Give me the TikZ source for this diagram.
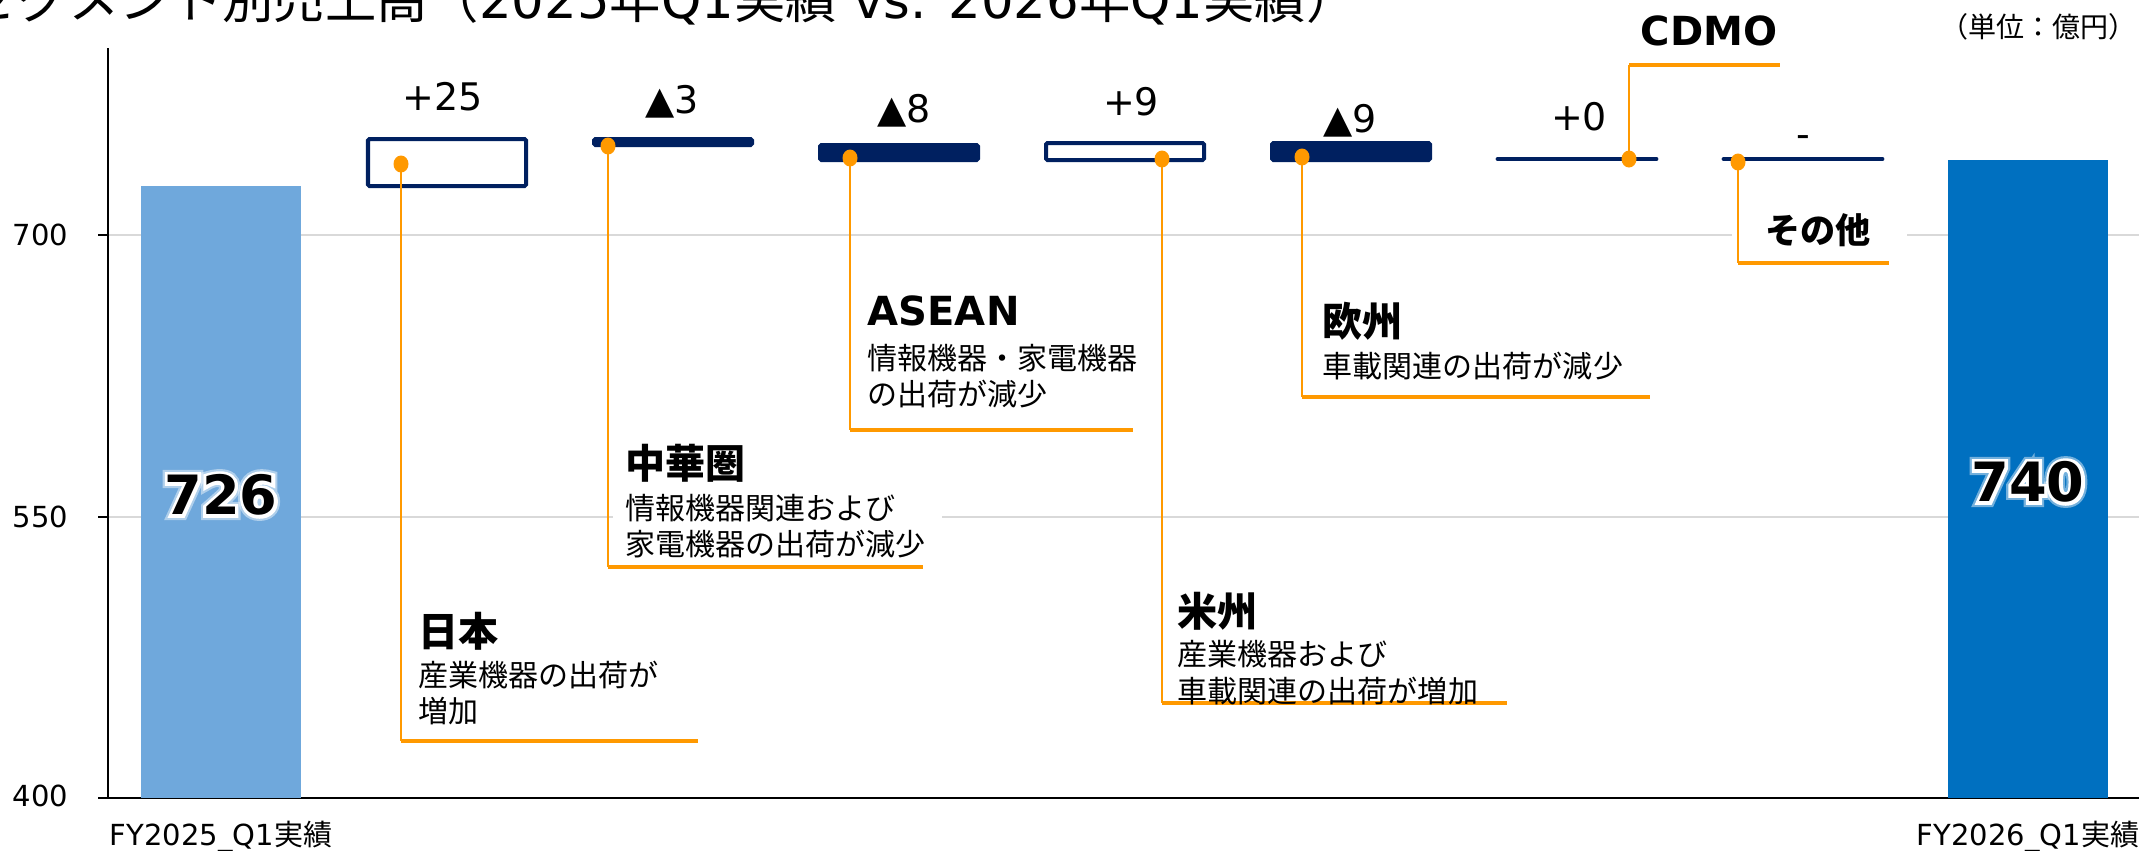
\documentclass[tikz,border=0pt]{standalone}
\usepackage{fontspec}
\setmainfont{DejaVu Sans}
\newfontfamily\jp{Noto Sans CJK JP}
\newfontfamily\glowA{DejaVu Sans}[UprightFont={* Bold}, FakeBold=12]
\newfontfamily\glowB{DejaVu Sans}[UprightFont={* Bold}, FakeBold=20]
\usetikzlibrary{calc,shapes.geometric}
\definecolor{navy}{HTML}{002060}
\definecolor{orng}{HTML}{FF9900}
\definecolor{lblue}{HTML}{6FA8DC}
\definecolor{dblue}{HTML}{0070C0}
\definecolor{gridc}{HTML}{D9D9D9}
\tikzset{
  axisline/.style={line width=0.45pt, black},
  gridline/.style={line width=0.45pt, gridc},
  incbox/.style={draw=navy, fill=white, line width=1.14pt, rounded corners=0.4pt},
  decbox/.style={draw=navy, fill=navy, line width=1.14pt, rounded corners=0.4pt},
  zeroline/.style={draw=navy, line width=1.4pt, line cap=round},
  vleader/.style={draw=orng, line width=0.45pt},
  hleader/.style={draw=orng, line width=1.2pt},
  dot/.style={ellipse, fill=orng, minimum width=0.15cm, minimum height=0.17cm, inner sep=0pt},
  axlbl/.style={font=\fontsize{8.25}{9}\selectfont, inner sep=0pt},
  vallbl/.style={font=\fontsize{10.8}{12}\selectfont, inner sep=0pt, anchor=base},
  barlbl/.style={font=\bfseries\fontsize{15.4}{17}\selectfont, inner sep=0pt},
  hdr/.style={font=\bfseries\fontsize{11.4}{13}\selectfont, inner sep=0pt, anchor=base west},
  body/.style={font=\jp\fontsize{8.54}{10.25}\selectfont, inner sep=0pt, anchor=base west},
  ttl/.style={font=\fontsize{14.6}{16}\selectfont, inner sep=0pt, anchor=base west},
}
\newcommand\glowlabel[3]{%
  \node[inner sep=0pt, text=white, opacity=0.45, font=\glowB\fontsize{15.4}{17}\selectfont] (#2b) at (#1) {#3};
  \node[inner sep=0pt, text=white, font=\glowA\fontsize{15.4}{17}\selectfont] (#2a) at (#1) {#3};
  \node[barlbl] (#2) at (#1) {#3};
}
\begin{document}
\begin{tikzpicture}[x=0.01cm, y=-0.01cm]
\useasboundingbox (0,0) rectangle (2139,850);
\clip (0,0) rectangle (2139,850);

% title (cut by the top edge)
\node[ttl] (title) at (-35,18) {{\jp セグメント別売上高（}2025{\jp 年}Q1{\jp 実績} vs. 2026{\jp 年}Q1{\jp 実績）}};
\node[font=\jp\fontsize{7.97}{9}\selectfont, inner sep=0pt, anchor=base east] (unit) at (2137,37) {（単位：億円）};

% grid
\draw[gridline] (108,235) -- (2139,235);
\draw[gridline] (108,517) -- (2139,517);

% axis
\draw[axisline] (108,48) -- (108,798);
\draw[axisline] (98,798) -- (2139,798);
\draw[axisline] (98,235) -- (108,235);
\draw[axisline] (98,517) -- (108,517);
\node[axlbl, anchor=east] (l700) at (69,235) {700};
\node[axlbl, anchor=east] (l550) at (69,517) {550};
\node[axlbl, anchor=east] (l400) at (69,796) {400};

% total bars
\fill[lblue] (141,186) rectangle (301,798);
\fill[dblue] (1948,160) rectangle (2108,798);

% change boxes
\draw[incbox] (368,139) rectangle (526,186);
\draw[decbox] (594,139) rectangle (752,145);
\draw[decbox] (820,145) rectangle (978,160);
\draw[incbox] (1046,143) rectangle (1204,160);
\draw[decbox] (1272,143) rectangle (1430,160);
\draw[zeroline] (1498,159) -- (1656,159);
\draw[zeroline] (1724,159) -- (1882,159);

% value labels
\node[vallbl] (v1) at (443,110) {+25};
\node[vallbl] (v2) at (672,113) {▲3};
\node[vallbl] (v3) at (904,122) {▲8};
\node[vallbl] (v4) at (1131,115) {+9};
\node[vallbl] (v5) at (1350,132) {▲9};
\node[vallbl] (v6) at (1579,130) {+0};
\node[vallbl] (v7) at (1803,147) {-};

% text backgrounds
\fill[white] (613,436) rectangle (942,560);
\fill[white] (1732,200) rectangle (1907,255);

% leader points
\coordinate (cJP) at (401,741);  \coordinate (eJP) at (698,741);
\coordinate (cCN) at (608,567);  \coordinate (eCN) at (923,567);
\coordinate (cAS) at (850,430);  \coordinate (eAS) at (1133,430);
\coordinate (cUS) at (1162,703); \coordinate (eUS) at (1507,703);
\coordinate (cEU) at (1302,397); \coordinate (eEU) at (1650,397);
\coordinate (cCD) at (1629,65);  \coordinate (eCD) at (1780,65);
\coordinate (cOT) at (1738,263); \coordinate (eOT) at (1889,263);

\draw[vleader] (401,164) -- (cJP);
\draw[vleader] (608,146) -- (cCN);
\draw[vleader] (850,158) -- (cAS);
\draw[vleader] (1162,159) -- (cUS);
\draw[vleader] (1302,157) -- (cEU);
\draw[vleader] (1629,159) -- (cCD);
\draw[vleader] (1738,162) -- (cOT);
\draw[hleader] (cJP) -- (eJP);
\draw[hleader] (cCN) -- (eCN);
\draw[hleader] (cAS) -- (eAS);
\draw[hleader] (cUS) -- (eUS);
\draw[hleader] (cEU) -- (eEU);
\draw[hleader] (cCD) -- (eCD);
\draw[hleader] (cOT) -- (eOT);

\node[dot] (dJP) at (401,164) {};
\node[dot] (dCN) at (608,146) {};
\node[dot] (dAS) at (850,158) {};
\node[dot] (dUS) at (1162,159) {};
\node[dot] (dEU) at (1302,157) {};
\node[dot] (dCD) at (1629,159) {};
\node[dot] (dOT) at (1738,162) {};

% callout texts
\node[hdr] (hJP) at (418,646) {{\jp 日本}};
\node[body] (bJP1) at (418,686) {産業機器の出荷が};
\node[body] (bJP2) at (418,722) {増加};

\node[hdr] (hCN) at (625,478) {{\jp 中華圏}};
\node[body] (bCN1) at (625,519) {情報機器関連および};
\node[body] (bCN2) at (625,555) {家電機器の出荷が減少};

\node[hdr] (hAS) at (867,325) {ASEAN};
\node[body] (bAS1) at (867,369) {情報機器・家電機器};
\node[body] (bAS2) at (867,405) {の出荷が減少};

\node[hdr] (hUS) at (1177,626) {{\jp 米州}};
\node[body] (bUS1) at (1177,665) {産業機器および};
\node[body] (bUS2) at (1177,702) {車載関連の出荷が増加};

\node[hdr] (hEU) at (1322,336) {{\jp 欧州}};
\node[body] (bEU1) at (1322,377) {車載関連の出荷が減少};

\node[hdr, anchor=base] (hCD) at (1709,45) {CDMO};
\node[hdr, anchor=base, font=\bfseries\fontsize{10}{12}\selectfont] (hOT) at (1818,243) {{\jp その他}};

% bar values
\glowlabel{221,495}{t726}{726}
\glowlabel{2028,482}{t740}{740}

% category labels
\node[axlbl, anchor=base] (cat1) at (221,845) {FY2025\_Q1{\jp 実績}};
\node[axlbl, anchor=base] (cat2) at (2028,845) {FY2026\_Q1{\jp 実績}};
\end{tikzpicture}
\end{document}
